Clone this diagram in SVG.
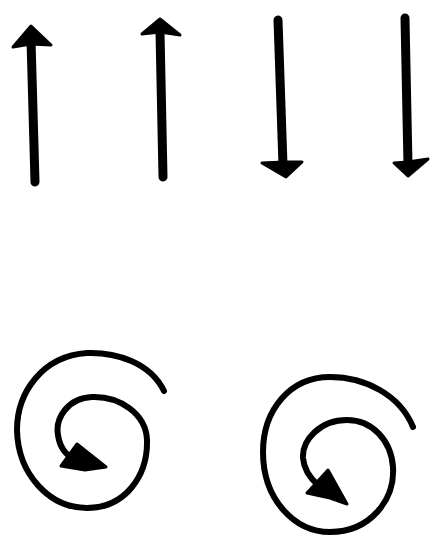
<svg xmlns="http://www.w3.org/2000/svg" width="433" height="539" viewBox="0 0 433 539">
<style>
.shaft{stroke:#000;stroke-width:9;stroke-linecap:round;fill:none}
.spiral{stroke:#000;stroke-width:6;stroke-linecap:round;fill:none}
.head{fill:#000;stroke:#000;stroke-width:3;stroke-linejoin:round}
</style>
<rect width="433" height="539" fill="#fff"/>
<g id="arrow1">
<line class="shaft" x1="31" y1="40" x2="35" y2="182"/>
<polygon class="head" points="31,26 13,47 31,44 51,45"/>
</g>
<g id="arrow2">
<line class="shaft" x1="160" y1="32" x2="163" y2="177"/>
<polygon class="head" points="160,19 142,34 160,32 180,35"/>
</g>
<g id="arrow3">
<line class="shaft" x1="278" y1="20" x2="283" y2="165"/>
<polygon class="head" points="262,163 284,162 302,162 286,177"/>
</g>
<g id="arrow4">
<line class="shaft" x1="405" y1="18" x2="408" y2="165"/>
<polygon class="head" points="394,163 408,162 428,159 408,176"/>
</g>
<g id="spiral1">
<path class="spiral" d="M164,391 C150,362 115,352 87,353 C42,356 17,393 17,430 C18,475 50,508 87,508 C125,508 148,476 147,440 C146,414 120,396 92,397 C68,398 55,418 58,435 C60,450 68,457 80,462"/>
<polygon class="head" points="61,466 77,444 106,467 85,470"/>
</g>
<g id="spiral2">
<path class="spiral" d="M413,427 C400,395 365,377 330,377 C290,377 263,410 263,452 C263,500 295,532 330,532 C370,532 395,500 393,467 C391,440 372,420 347,420 C320,420 302,440 303,458 C304,470 310,478 318,485"/>
<polygon class="head" points="307,493 328,470 347,504 330,498"/>
</g>
</svg>
